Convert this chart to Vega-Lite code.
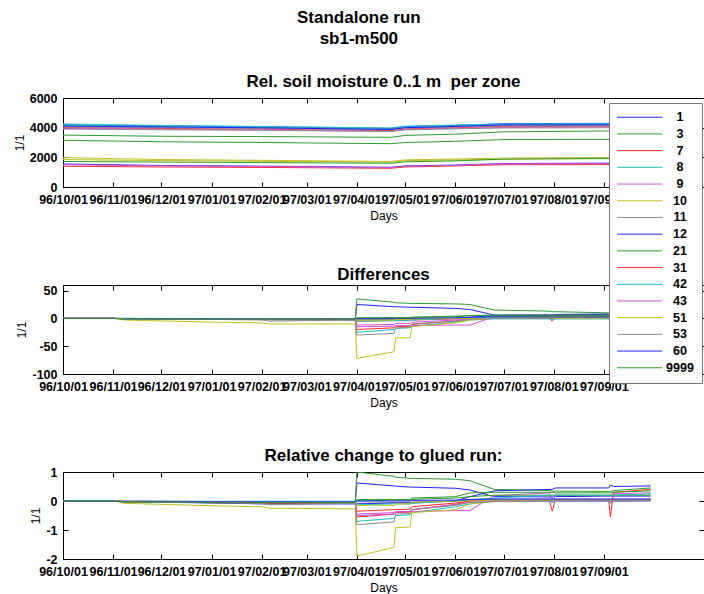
{
"$schema":"https://vega.github.io/schema/vega-lite/v6.json",
"background":"white",
"padding":{"left":12,"top":8,"right":0,"bottom":0},
"title":{"text":["Standalone run","sb1-m500"],"fontSize":17,"fontWeight":"bold","font":"Liberation Sans","lineHeight":21,"anchor":"middle","color":"#000","offset":25},
"bounds":"flush",
"spacing":98,
"config":{
"font":"Liberation Sans",
"view":{"stroke":"#000","strokeWidth":1},
"title":{"font":"Liberation Sans","fontSize":17,"fontWeight":"bold","color":"#000","offset":1},
"axis":{"labelFont":"Liberation Sans","labelFontSize":12.5,"labelFontWeight":"bold","labelColor":"#000","tickColor":"#000","tickSize":-5,"labelPadding":11,"domainColor":"#000","titleFont":"Liberation Sans","titleFontSize":12,"titleFontWeight":"normal","titleColor":"#000","grid":false,"labelOverlap":false,"labelBound":false,"labelFlush":false,"titlePadding":3},
"axisX":{"titlePadding":5},
"legend":{"orient":"none","legendX":546,"legendY":5,"fillColor":"#fff","strokeColor":"#777","padding":8,"symbolType":"M-9,0H9","symbolSize":25,"symbolOffset":16.5,"symbolStrokeWidth":1,"labelFont":"Liberation Sans","labelFontSize":12.5,"labelFontWeight":"bold","labelColor":"#000","labelAlign":"center","labelOffset":34,"rowPadding":3.7}
},
"datasets":{
"m":[
{"z":"1","t":"1996-10-01","v":4200},{"z":"1","t":"1996-12-01","v":4120},{"z":"1","t":"1997-02-01","v":4060},{"z":"1","t":"1997-04-22","v":3950},{"z":"1","t":"1997-05-01","v":4080},{"z":"1","t":"1997-06-01","v":4150},{"z":"1","t":"1997-07-01","v":4270},{"z":"1","t":"1997-09-30","v":4300},
{"z":"3","t":"1996-10-01","v":3500},{"z":"3","t":"1996-12-01","v":3420},{"z":"3","t":"1997-02-01","v":3400},{"z":"3","t":"1997-04-22","v":3350},{"z":"3","t":"1997-05-01","v":3480},{"z":"3","t":"1997-06-01","v":3560},{"z":"3","t":"1997-07-01","v":3720},{"z":"3","t":"1997-09-30","v":3800},
{"z":"7","t":"1996-10-01","v":4000},{"z":"7","t":"1996-12-01","v":3950},{"z":"7","t":"1997-02-01","v":3900},{"z":"7","t":"1997-04-22","v":3800},{"z":"7","t":"1997-05-01","v":3920},{"z":"7","t":"1997-06-01","v":4000},{"z":"7","t":"1997-07-01","v":4080},{"z":"7","t":"1997-09-30","v":4100},
{"z":"8","t":"1996-10-01","v":4250},{"z":"8","t":"1996-12-01","v":4150},{"z":"8","t":"1997-02-01","v":4080},{"z":"8","t":"1997-04-22","v":3980},{"z":"8","t":"1997-05-01","v":4100},{"z":"8","t":"1997-06-01","v":4180},{"z":"8","t":"1997-07-01","v":4250},{"z":"8","t":"1997-09-30","v":4280},
{"z":"9","t":"1996-10-01","v":3950},{"z":"9","t":"1996-12-01","v":3900},{"z":"9","t":"1997-02-01","v":3850},{"z":"9","t":"1997-04-22","v":3760},{"z":"9","t":"1997-05-01","v":3880},{"z":"9","t":"1997-06-01","v":3950},{"z":"9","t":"1997-07-01","v":4020},{"z":"9","t":"1997-09-30","v":4060},
{"z":"10","t":"1996-10-01","v":1980},{"z":"10","t":"1996-12-01","v":1850},{"z":"10","t":"1997-02-01","v":1800},{"z":"10","t":"1997-04-22","v":1720},{"z":"10","t":"1997-05-01","v":1830},{"z":"10","t":"1997-06-01","v":1880},{"z":"10","t":"1997-07-01","v":1950},{"z":"10","t":"1997-09-30","v":1990},
{"z":"11","t":"1996-10-01","v":4050},{"z":"11","t":"1996-12-01","v":4000},{"z":"11","t":"1997-02-01","v":3950},{"z":"11","t":"1997-04-22","v":3850},{"z":"11","t":"1997-05-01","v":3980},{"z":"11","t":"1997-06-01","v":4050},{"z":"11","t":"1997-07-01","v":4120},{"z":"11","t":"1997-09-30","v":4150},
{"z":"12","t":"1996-10-01","v":1550},{"z":"12","t":"1996-12-01","v":1450},{"z":"12","t":"1997-02-01","v":1400},{"z":"12","t":"1997-04-22","v":1330},{"z":"12","t":"1997-05-01","v":1420},{"z":"12","t":"1997-06-01","v":1480},{"z":"12","t":"1997-07-01","v":1580},{"z":"12","t":"1997-09-30","v":1620},
{"z":"21","t":"1996-10-01","v":3150},{"z":"21","t":"1996-12-01","v":3050},{"z":"21","t":"1997-02-01","v":3000},{"z":"21","t":"1997-04-22","v":2920},{"z":"21","t":"1997-05-01","v":3000},{"z":"21","t":"1997-06-01","v":3080},{"z":"21","t":"1997-07-01","v":3200},{"z":"21","t":"1997-09-30","v":3220},
{"z":"31","t":"1996-10-01","v":1400},{"z":"31","t":"1996-12-01","v":1350},{"z":"31","t":"1997-02-01","v":1320},{"z":"31","t":"1997-04-22","v":1260},{"z":"31","t":"1997-05-01","v":1350},{"z":"31","t":"1997-06-01","v":1420},{"z":"31","t":"1997-07-01","v":1500},{"z":"31","t":"1997-09-30","v":1520},
{"z":"42","t":"1996-10-01","v":4150},{"z":"42","t":"1996-12-01","v":4080},{"z":"42","t":"1997-02-01","v":4020},{"z":"42","t":"1997-04-22","v":3900},{"z":"42","t":"1997-05-01","v":4030},{"z":"42","t":"1997-06-01","v":4100},{"z":"42","t":"1997-07-01","v":4200},{"z":"42","t":"1997-09-30","v":4230},
{"z":"43","t":"1996-10-01","v":1500},{"z":"43","t":"1996-12-01","v":1420},{"z":"43","t":"1997-02-01","v":1380},{"z":"43","t":"1997-04-22","v":1300},{"z":"43","t":"1997-05-01","v":1400},{"z":"43","t":"1997-06-01","v":1460},{"z":"43","t":"1997-07-01","v":1560},{"z":"43","t":"1997-09-30","v":1580},
{"z":"51","t":"1996-10-01","v":1850},{"z":"51","t":"1996-12-01","v":1780},{"z":"51","t":"1997-02-01","v":1740},{"z":"51","t":"1997-04-22","v":1680},{"z":"51","t":"1997-05-01","v":1780},{"z":"51","t":"1997-06-01","v":1820},{"z":"51","t":"1997-07-01","v":1880},{"z":"51","t":"1997-09-30","v":1920},
{"z":"53","t":"1996-10-01","v":3900},{"z":"53","t":"1996-12-01","v":3860},{"z":"53","t":"1997-02-01","v":3820},{"z":"53","t":"1997-04-22","v":3740},{"z":"53","t":"1997-05-01","v":3850},{"z":"53","t":"1997-06-01","v":3920},{"z":"53","t":"1997-07-01","v":3980},{"z":"53","t":"1997-09-30","v":4000},
{"z":"60","t":"1996-10-01","v":4100},{"z":"60","t":"1996-12-01","v":4050},{"z":"60","t":"1997-02-01","v":3990},{"z":"60","t":"1997-04-22","v":3880},{"z":"60","t":"1997-05-01","v":4000},{"z":"60","t":"1997-06-01","v":4080},{"z":"60","t":"1997-07-01","v":4180},{"z":"60","t":"1997-09-30","v":4200},
{"z":"9999","t":"1996-10-01","v":1720},{"z":"9999","t":"1996-12-01","v":1680},{"z":"9999","t":"1997-02-01","v":1650},{"z":"9999","t":"1997-04-22","v":1600},{"z":"9999","t":"1997-05-01","v":1700},{"z":"9999","t":"1997-06-01","v":1760},{"z":"9999","t":"1997-07-01","v":1880},{"z":"9999","t":"1997-09-30","v":1960}
],
"d":[
{"z":"1","t":"1996-10-01","d":0,"r":0},{"z":"1","t":"1996-11-01","d":0,"r":0},{"z":"1","t":"1996-11-08","d":-1,"r":-0.02},{"z":"1","t":"1997-01-05","d":-2,"r":-0.05},{"z":"1","t":"1997-02-01","d":-2,"r":-0.05},{"z":"1","t":"1997-02-06","d":-2,"r":-0.05},{"z":"1","t":"1997-03-31","d":-3,"r":-0.07},{"z":"1","t":"1997-04-01","d":25,"r":0.62},{"z":"1","t":"1997-04-24","d":21,"r":0.52},{"z":"1","t":"1997-04-25","d":21,"r":0.51},{"z":"1","t":"1997-05-04","d":20,"r":0.48},{"z":"1","t":"1997-05-05","d":20,"r":0.48},{"z":"1","t":"1997-06-01","d":18,"r":0.44},{"z":"1","t":"1997-06-10","d":16,"r":0.38},{"z":"1","t":"1997-06-25","d":6,"r":0.15},{"z":"1","t":"1997-07-29","d":6,"r":0.14},{"z":"1","t":"1997-07-31","d":6,"r":0.14},{"z":"1","t":"1997-08-02","d":7,"r":0.15},{"z":"1","t":"1997-09-04","d":8,"r":0.17},{"z":"1","t":"1997-09-05","d":8,"r":0.17},{"z":"1","t":"1997-09-07","d":8,"r":0.17},{"z":"1","t":"1997-09-30","d":8,"r":0.17},
{"z":"3","t":"1996-10-01","d":0,"r":0},{"z":"3","t":"1996-11-01","d":0,"r":0},{"z":"3","t":"1996-11-08","d":-1,"r":-0.03},{"z":"3","t":"1997-01-05","d":-2,"r":-0.06},{"z":"3","t":"1997-02-01","d":-2,"r":-0.06},{"z":"3","t":"1997-02-06","d":-2,"r":-0.06},{"z":"3","t":"1997-03-31","d":-2,"r":-0.06},{"z":"3","t":"1997-04-01","d":35,"r":1},{"z":"3","t":"1997-04-24","d":29,"r":0.85},{"z":"3","t":"1997-04-25","d":28,"r":0.82},{"z":"3","t":"1997-05-04","d":27,"r":0.78},{"z":"3","t":"1997-05-05","d":27,"r":0.78},{"z":"3","t":"1997-06-01","d":26,"r":0.75},{"z":"3","t":"1997-06-10","d":25,"r":0.7},{"z":"3","t":"1997-06-25","d":15,"r":0.4},{"z":"3","t":"1997-07-29","d":13,"r":0.36},{"z":"3","t":"1997-07-31","d":12,"r":0.34},{"z":"3","t":"1997-08-02","d":12,"r":0.34},{"z":"3","t":"1997-09-04","d":10,"r":0.33},{"z":"3","t":"1997-09-05","d":10,"r":0.33},{"z":"3","t":"1997-09-07","d":10,"r":0.36},{"z":"3","t":"1997-09-30","d":10,"r":0.45},
{"z":"7","t":"1996-10-01","d":0,"r":0},{"z":"7","t":"1996-11-01","d":0,"r":0},{"z":"7","t":"1996-11-08","d":-0.5,"r":-0.02},{"z":"7","t":"1997-01-05","d":-1,"r":-0.03},{"z":"7","t":"1997-02-01","d":-1,"r":-0.03},{"z":"7","t":"1997-02-06","d":-1.5,"r":-0.04},{"z":"7","t":"1997-03-31","d":-1.5,"r":-0.04},{"z":"7","t":"1997-04-01","d":-20,"r":-0.55},{"z":"7","t":"1997-04-24","d":-17,"r":-0.45},{"z":"7","t":"1997-04-25","d":-15,"r":-0.4},{"z":"7","t":"1997-05-04","d":-14,"r":-0.38},{"z":"7","t":"1997-05-05","d":-11,"r":-0.3},{"z":"7","t":"1997-06-01","d":-5,"r":-0.12},{"z":"7","t":"1997-06-10","d":0,"r":0},{"z":"7","t":"1997-06-25","d":1,"r":0.03},{"z":"7","t":"1997-07-29","d":1,"r":0.05},{"z":"7","t":"1997-07-31","d":-5,"r":-0.35},{"z":"7","t":"1997-08-02","d":1,"r":0.05},{"z":"7","t":"1997-09-04","d":2,"r":0.05},{"z":"7","t":"1997-09-05","d":2,"r":0.05},{"z":"7","t":"1997-09-07","d":2,"r":0.05},{"z":"7","t":"1997-09-30","d":2,"r":0.05},
{"z":"8","t":"1996-10-01","d":0,"r":0},{"z":"8","t":"1996-11-01","d":0,"r":0},{"z":"8","t":"1996-11-08","d":-0.5,"r":-0.01},{"z":"8","t":"1997-01-05","d":-1,"r":-0.03},{"z":"8","t":"1997-02-01","d":-1,"r":-0.03},{"z":"8","t":"1997-02-06","d":-1,"r":-0.03},{"z":"8","t":"1997-03-31","d":-1,"r":-0.03},{"z":"8","t":"1997-04-01","d":-25,"r":-0.7},{"z":"8","t":"1997-04-24","d":-20,"r":-0.6},{"z":"8","t":"1997-04-25","d":-18,"r":-0.5},{"z":"8","t":"1997-05-04","d":-17,"r":-0.48},{"z":"8","t":"1997-05-05","d":-14,"r":-0.4},{"z":"8","t":"1997-06-01","d":-7,"r":-0.2},{"z":"8","t":"1997-06-10","d":-3,"r":-0.1},{"z":"8","t":"1997-06-25","d":-1,"r":-0.02},{"z":"8","t":"1997-07-29","d":-1,"r":-0.02},{"z":"8","t":"1997-07-31","d":-2,"r":-0.05},{"z":"8","t":"1997-08-02","d":-1,"r":-0.02},{"z":"8","t":"1997-09-04","d":-1,"r":-0.02},{"z":"8","t":"1997-09-05","d":-3,"r":-0.08},{"z":"8","t":"1997-09-07","d":-1,"r":-0.02},{"z":"8","t":"1997-09-30","d":-1,"r":0},
{"z":"9","t":"1996-10-01","d":0,"r":0},{"z":"9","t":"1996-11-01","d":0,"r":0},{"z":"9","t":"1996-11-08","d":-0.5,"r":-0.02},{"z":"9","t":"1997-01-05","d":-1,"r":-0.03},{"z":"9","t":"1997-02-01","d":-1.5,"r":-0.04},{"z":"9","t":"1997-02-06","d":-1.5,"r":-0.04},{"z":"9","t":"1997-03-31","d":-1.5,"r":-0.04},{"z":"9","t":"1997-04-01","d":-15,"r":-0.45},{"z":"9","t":"1997-04-24","d":-14,"r":-0.4},{"z":"9","t":"1997-04-25","d":-13,"r":-0.37},{"z":"9","t":"1997-05-04","d":-13,"r":-0.36},{"z":"9","t":"1997-05-05","d":-13,"r":-0.36},{"z":"9","t":"1997-06-01","d":-12,"r":-0.33},{"z":"9","t":"1997-06-10","d":-12,"r":-0.33},{"z":"9","t":"1997-06-25","d":3,"r":0.18},{"z":"9","t":"1997-07-29","d":5,"r":0.28},{"z":"9","t":"1997-07-31","d":4,"r":0.1},{"z":"9","t":"1997-08-02","d":5,"r":0.2},{"z":"9","t":"1997-09-04","d":5,"r":0.18},{"z":"9","t":"1997-09-05","d":5,"r":0.2},{"z":"9","t":"1997-09-07","d":5,"r":0.25},{"z":"9","t":"1997-09-30","d":5,"r":0.28},
{"z":"10","t":"1996-10-01","d":0,"r":0},{"z":"10","t":"1996-11-01","d":0,"r":0},{"z":"10","t":"1996-11-08","d":-3,"r":-0.08},{"z":"10","t":"1997-01-05","d":-7,"r":-0.17},{"z":"10","t":"1997-02-01","d":-8,"r":-0.2},{"z":"10","t":"1997-02-06","d":-10,"r":-0.25},{"z":"10","t":"1997-03-31","d":-10,"r":-0.27},{"z":"10","t":"1997-04-01","d":-72,"r":-1.9},{"z":"10","t":"1997-04-24","d":-60,"r":-1.6},{"z":"10","t":"1997-04-25","d":-35,"r":-0.92},{"z":"10","t":"1997-05-04","d":-35,"r":-0.9},{"z":"10","t":"1997-05-05","d":-15,"r":-0.4},{"z":"10","t":"1997-06-01","d":-8,"r":-0.3},{"z":"10","t":"1997-06-10","d":-3,"r":-0.1},{"z":"10","t":"1997-06-25","d":0,"r":0},{"z":"10","t":"1997-07-29","d":1,"r":0.02},{"z":"10","t":"1997-07-31","d":1,"r":0.02},{"z":"10","t":"1997-08-02","d":1,"r":0.03},{"z":"10","t":"1997-09-04","d":1,"r":0.03},{"z":"10","t":"1997-09-05","d":1,"r":0.03},{"z":"10","t":"1997-09-07","d":1,"r":0.03},{"z":"10","t":"1997-09-30","d":1,"r":0.03},
{"z":"11","t":"1996-10-01","d":0,"r":0},{"z":"11","t":"1996-11-01","d":0,"r":0},{"z":"11","t":"1996-11-08","d":-1,"r":-0.03},{"z":"11","t":"1997-01-05","d":-2,"r":-0.05},{"z":"11","t":"1997-02-01","d":-2,"r":-0.05},{"z":"11","t":"1997-02-06","d":-3,"r":-0.08},{"z":"11","t":"1997-03-31","d":-2,"r":-0.05},{"z":"11","t":"1997-04-01","d":-3,"r":-0.08},{"z":"11","t":"1997-04-24","d":-2,"r":-0.05},{"z":"11","t":"1997-04-25","d":-2,"r":-0.05},{"z":"11","t":"1997-05-04","d":-2,"r":-0.05},{"z":"11","t":"1997-05-05","d":-1,"r":-0.03},{"z":"11","t":"1997-06-01","d":0,"r":0},{"z":"11","t":"1997-06-10","d":1,"r":0.03},{"z":"11","t":"1997-06-25","d":2,"r":0.05},{"z":"11","t":"1997-07-29","d":2,"r":0.05},{"z":"11","t":"1997-07-31","d":2,"r":0.05},{"z":"11","t":"1997-08-02","d":2,"r":0.05},{"z":"11","t":"1997-09-04","d":2,"r":0.05},{"z":"11","t":"1997-09-05","d":1,"r":-0.05},{"z":"11","t":"1997-09-07","d":2,"r":0.05},{"z":"11","t":"1997-09-30","d":2,"r":0.05},
{"z":"12","t":"1996-10-01","d":0,"r":0},{"z":"12","t":"1996-11-01","d":0,"r":0},{"z":"12","t":"1996-11-08","d":-0.5,"r":-0.03},{"z":"12","t":"1997-01-05","d":-1,"r":-0.07},{"z":"12","t":"1997-02-01","d":-1.5,"r":-0.1},{"z":"12","t":"1997-02-06","d":-1.5,"r":-0.1},{"z":"12","t":"1997-03-31","d":-1.5,"r":-0.1},{"z":"12","t":"1997-04-01","d":-1.5,"r":-0.1},{"z":"12","t":"1997-04-24","d":-1,"r":-0.07},{"z":"12","t":"1997-04-25","d":-1,"r":-0.07},{"z":"12","t":"1997-05-04","d":-1,"r":-0.07},{"z":"12","t":"1997-05-05","d":-1,"r":-0.07},{"z":"12","t":"1997-06-01","d":0,"r":0},{"z":"12","t":"1997-06-10","d":2,"r":0.15},{"z":"12","t":"1997-06-25","d":5,"r":0.35},{"z":"12","t":"1997-07-29","d":6,"r":0.4},{"z":"12","t":"1997-07-31","d":6,"r":0.4},{"z":"12","t":"1997-08-02","d":6.5,"r":0.45},{"z":"12","t":"1997-09-04","d":7,"r":0.45},{"z":"12","t":"1997-09-05","d":8.5,"r":0.55},{"z":"12","t":"1997-09-07","d":7.5,"r":0.5},{"z":"12","t":"1997-09-30","d":8,"r":0.52},
{"z":"21","t":"1996-10-01","d":0,"r":0},{"z":"21","t":"1996-11-01","d":0,"r":0},{"z":"21","t":"1996-11-08","d":-1,"r":-0.03},{"z":"21","t":"1997-01-05","d":-2,"r":-0.06},{"z":"21","t":"1997-02-01","d":-2,"r":-0.06},{"z":"21","t":"1997-02-06","d":-2,"r":-0.06},{"z":"21","t":"1997-03-31","d":-2,"r":-0.06},{"z":"21","t":"1997-04-01","d":0,"r":0},{"z":"21","t":"1997-04-24","d":1,"r":0.03},{"z":"21","t":"1997-04-25","d":1,"r":0.03},{"z":"21","t":"1997-05-04","d":1,"r":0.03},{"z":"21","t":"1997-05-05","d":2,"r":0.06},{"z":"21","t":"1997-06-01","d":3,"r":0.1},{"z":"21","t":"1997-06-10","d":5,"r":0.15},{"z":"21","t":"1997-06-25","d":6,"r":0.2},{"z":"21","t":"1997-07-29","d":6,"r":0.2},{"z":"21","t":"1997-07-31","d":6,"r":0.2},{"z":"21","t":"1997-08-02","d":6,"r":0.2},{"z":"21","t":"1997-09-04","d":6,"r":0.2},{"z":"21","t":"1997-09-05","d":6,"r":0.2},{"z":"21","t":"1997-09-07","d":6,"r":0.2},{"z":"21","t":"1997-09-30","d":6,"r":0.2},
{"z":"31","t":"1996-10-01","d":0,"r":0},{"z":"31","t":"1996-11-01","d":0,"r":0},{"z":"31","t":"1996-11-08","d":-0.3,"r":-0.02},{"z":"31","t":"1997-01-05","d":-0.8,"r":-0.06},{"z":"31","t":"1997-02-01","d":-1,"r":-0.07},{"z":"31","t":"1997-02-06","d":-1,"r":-0.07},{"z":"31","t":"1997-03-31","d":-1,"r":-0.07},{"z":"31","t":"1997-04-01","d":-5,"r":-0.35},{"z":"31","t":"1997-04-24","d":-4,"r":-0.3},{"z":"31","t":"1997-04-25","d":-4,"r":-0.3},{"z":"31","t":"1997-05-04","d":-4,"r":-0.28},{"z":"31","t":"1997-05-05","d":-3,"r":-0.2},{"z":"31","t":"1997-06-01","d":-1,"r":-0.07},{"z":"31","t":"1997-06-10","d":0,"r":0},{"z":"31","t":"1997-06-25","d":0,"r":0},{"z":"31","t":"1997-07-29","d":0.5,"r":0.03},{"z":"31","t":"1997-07-31","d":0.5,"r":0.03},{"z":"31","t":"1997-08-02","d":0.5,"r":0.03},{"z":"31","t":"1997-09-04","d":0.5,"r":0.03},{"z":"31","t":"1997-09-05","d":-7,"r":-0.55},{"z":"31","t":"1997-09-07","d":4,"r":0.3},{"z":"31","t":"1997-09-30","d":5,"r":0.4},
{"z":"42","t":"1996-10-01","d":0,"r":0},{"z":"42","t":"1996-11-01","d":0,"r":0},{"z":"42","t":"1996-11-08","d":0,"r":0},{"z":"42","t":"1997-01-05","d":-0.5,"r":-0.01},{"z":"42","t":"1997-02-01","d":-0.5,"r":-0.01},{"z":"42","t":"1997-02-06","d":-0.5,"r":-0.01},{"z":"42","t":"1997-03-31","d":-0.5,"r":-0.01},{"z":"42","t":"1997-04-01","d":-5,"r":-0.13},{"z":"42","t":"1997-04-24","d":-4,"r":-0.1},{"z":"42","t":"1997-04-25","d":-4,"r":-0.1},{"z":"42","t":"1997-05-04","d":-4,"r":-0.1},{"z":"42","t":"1997-05-05","d":-3,"r":-0.08},{"z":"42","t":"1997-06-01","d":0,"r":0},{"z":"42","t":"1997-06-10","d":1,"r":0.05},{"z":"42","t":"1997-06-25","d":2,"r":0.1},{"z":"42","t":"1997-07-29","d":3,"r":0.2},{"z":"42","t":"1997-07-31","d":-2,"r":-0.05},{"z":"42","t":"1997-08-02","d":3,"r":0.2},{"z":"42","t":"1997-09-04","d":3,"r":0.2},{"z":"42","t":"1997-09-05","d":3,"r":0.2},{"z":"42","t":"1997-09-07","d":3,"r":0.2},{"z":"42","t":"1997-09-30","d":3,"r":0.25},
{"z":"43","t":"1996-10-01","d":0,"r":0},{"z":"43","t":"1996-11-01","d":0,"r":0},{"z":"43","t":"1996-11-08","d":0,"r":0},{"z":"43","t":"1997-01-05","d":-0.5,"r":-0.02},{"z":"43","t":"1997-02-01","d":-1,"r":-0.05},{"z":"43","t":"1997-02-06","d":-1,"r":-0.05},{"z":"43","t":"1997-03-31","d":-1,"r":-0.05},{"z":"43","t":"1997-04-01","d":-12,"r":-0.5},{"z":"43","t":"1997-04-24","d":-11,"r":-0.45},{"z":"43","t":"1997-04-25","d":-9,"r":-0.38},{"z":"43","t":"1997-05-04","d":-9,"r":-0.37},{"z":"43","t":"1997-05-05","d":-7,"r":-0.3},{"z":"43","t":"1997-06-01","d":-3,"r":-0.12},{"z":"43","t":"1997-06-10","d":-1,"r":-0.04},{"z":"43","t":"1997-06-25","d":0,"r":0},{"z":"43","t":"1997-07-29","d":0,"r":0},{"z":"43","t":"1997-07-31","d":0,"r":0},{"z":"43","t":"1997-08-02","d":0,"r":0},{"z":"43","t":"1997-09-04","d":0,"r":0},{"z":"43","t":"1997-09-05","d":0,"r":0},{"z":"43","t":"1997-09-07","d":0,"r":0},{"z":"43","t":"1997-09-30","d":0,"r":0},
{"z":"51","t":"1996-10-01","d":0,"r":0},{"z":"51","t":"1996-11-01","d":0,"r":0},{"z":"51","t":"1996-11-08","d":-0.5,"r":-0.03},{"z":"51","t":"1997-01-05","d":-1,"r":-0.05},{"z":"51","t":"1997-02-01","d":-1,"r":-0.05},{"z":"51","t":"1997-02-06","d":-1,"r":-0.05},{"z":"51","t":"1997-03-31","d":-1,"r":-0.05},{"z":"51","t":"1997-04-01","d":-3,"r":-0.15},{"z":"51","t":"1997-04-24","d":-3,"r":-0.15},{"z":"51","t":"1997-04-25","d":-2,"r":-0.1},{"z":"51","t":"1997-05-04","d":-2,"r":-0.1},{"z":"51","t":"1997-05-05","d":-1,"r":-0.05},{"z":"51","t":"1997-06-01","d":0,"r":0},{"z":"51","t":"1997-06-10","d":0,"r":0},{"z":"51","t":"1997-06-25","d":0,"r":0.02},{"z":"51","t":"1997-07-29","d":0,"r":0.02},{"z":"51","t":"1997-07-31","d":0,"r":0.02},{"z":"51","t":"1997-08-02","d":0,"r":0.02},{"z":"51","t":"1997-09-04","d":0,"r":0.02},{"z":"51","t":"1997-09-05","d":0,"r":0.02},{"z":"51","t":"1997-09-07","d":0,"r":0.02},{"z":"51","t":"1997-09-30","d":0,"r":0.02},
{"z":"53","t":"1996-10-01","d":0,"r":0},{"z":"53","t":"1996-11-01","d":0,"r":0},{"z":"53","t":"1996-11-08","d":-1,"r":-0.03},{"z":"53","t":"1997-01-05","d":-2,"r":-0.05},{"z":"53","t":"1997-02-01","d":-3,"r":-0.08},{"z":"53","t":"1997-02-06","d":-5,"r":-0.13},{"z":"53","t":"1997-03-31","d":-3,"r":-0.08},{"z":"53","t":"1997-04-01","d":-30,"r":-0.82},{"z":"53","t":"1997-04-24","d":-27,"r":-0.72},{"z":"53","t":"1997-04-25","d":-17,"r":-0.45},{"z":"53","t":"1997-05-04","d":-16,"r":-0.43},{"z":"53","t":"1997-05-05","d":-10,"r":-0.3},{"z":"53","t":"1997-06-01","d":-5,"r":-0.15},{"z":"53","t":"1997-06-10","d":-2,"r":-0.05},{"z":"53","t":"1997-06-25","d":0,"r":0},{"z":"53","t":"1997-07-29","d":0,"r":0},{"z":"53","t":"1997-07-31","d":0,"r":0},{"z":"53","t":"1997-08-02","d":1,"r":0.02},{"z":"53","t":"1997-09-04","d":1,"r":0.02},{"z":"53","t":"1997-09-05","d":1,"r":0.02},{"z":"53","t":"1997-09-07","d":1,"r":0.02},{"z":"53","t":"1997-09-30","d":1,"r":0.02},
{"z":"60","t":"1996-10-01","d":0,"r":0},{"z":"60","t":"1996-11-01","d":0,"r":0},{"z":"60","t":"1996-11-08","d":-0.5,"r":-0.02},{"z":"60","t":"1997-01-05","d":-1,"r":-0.03},{"z":"60","t":"1997-02-01","d":-1,"r":-0.03},{"z":"60","t":"1997-02-06","d":-1,"r":-0.03},{"z":"60","t":"1997-03-31","d":-1,"r":-0.03},{"z":"60","t":"1997-04-01","d":0,"r":0},{"z":"60","t":"1997-04-24","d":0,"r":0},{"z":"60","t":"1997-04-25","d":0,"r":0},{"z":"60","t":"1997-05-04","d":0,"r":0},{"z":"60","t":"1997-05-05","d":0.5,"r":0.02},{"z":"60","t":"1997-06-01","d":1,"r":0.03},{"z":"60","t":"1997-06-10","d":2,"r":0.05},{"z":"60","t":"1997-06-25","d":3,"r":0.07},{"z":"60","t":"1997-07-29","d":3,"r":0.07},{"z":"60","t":"1997-07-31","d":3,"r":0.07},{"z":"60","t":"1997-08-02","d":3,"r":0.07},{"z":"60","t":"1997-09-04","d":3,"r":0.07},{"z":"60","t":"1997-09-05","d":3,"r":0.07},{"z":"60","t":"1997-09-07","d":3,"r":0.07},{"z":"60","t":"1997-09-30","d":3,"r":0.07},
{"z":"9999","t":"1996-10-01","d":0,"r":0},{"z":"9999","t":"1996-11-01","d":0,"r":0},{"z":"9999","t":"1996-11-08","d":-0.5,"r":-0.02},{"z":"9999","t":"1997-01-05","d":-1,"r":-0.05},{"z":"9999","t":"1997-02-01","d":-1,"r":-0.05},{"z":"9999","t":"1997-02-06","d":-1,"r":-0.05},{"z":"9999","t":"1997-03-31","d":-1,"r":-0.05},{"z":"9999","t":"1997-04-01","d":1,"r":0.05},{"z":"9999","t":"1997-04-24","d":1,"r":0.05},{"z":"9999","t":"1997-04-25","d":1,"r":0.05},{"z":"9999","t":"1997-05-04","d":1,"r":0.05},{"z":"9999","t":"1997-05-05","d":2,"r":0.1},{"z":"9999","t":"1997-06-01","d":4,"r":0.15},{"z":"9999","t":"1997-06-10","d":5,"r":0.28},{"z":"9999","t":"1997-06-25","d":5,"r":0.3},{"z":"9999","t":"1997-07-29","d":4,"r":0.3},{"z":"9999","t":"1997-07-31","d":4,"r":0.3},{"z":"9999","t":"1997-08-02","d":4,"r":0.28},{"z":"9999","t":"1997-09-04","d":4,"r":0.28},{"z":"9999","t":"1997-09-05","d":4,"r":0.28},{"z":"9999","t":"1997-09-07","d":4,"r":0.3},{"z":"9999","t":"1997-09-30","d":4,"r":0.35}
]
},
"vconcat":[
{"width":641,"height":89,"title":"Rel. soil moisture 0..1 m \u00a0per zone","data":{"name":"m"},
"layer":[
{"mark":{"type":"line","strokeWidth":1,"clip":true},
"encoding":{
"x":{"field":"t","type":"temporal","scale":{"type":"utc","domain":[{"year":1996,"month":10,"date":1,"utc":true},{"year":1997,"month":11,"date":2,"utc":true}]},"axis":{"orient":"bottom","format":"%y/%m/%d","title":"Days","values":[{"year":1996,"month":10,"date":1,"utc":true},{"year":1996,"month":11,"date":1,"utc":true},{"year":1996,"month":12,"date":1,"utc":true},{"year":1997,"month":1,"date":1,"utc":true},{"year":1997,"month":2,"date":1,"utc":true},{"year":1997,"month":3,"date":1,"utc":true},{"year":1997,"month":4,"date":1,"utc":true},{"year":1997,"month":5,"date":1,"utc":true},{"year":1997,"month":6,"date":1,"utc":true},{"year":1997,"month":7,"date":1,"utc":true},{"year":1997,"month":8,"date":1,"utc":true},{"year":1997,"month":9,"date":1,"utc":true}]}},
"y":{"field":"v","type":"quantitative","scale":{"domain":[0,6000]},"axis":{"orient":"left","values":[0,2000,4000,6000],"labelExpr":"'' + datum.value","title":"1/1"}},
"color":{"field":"z","type":"nominal","scale":{"domain":["1","3","7","8","9","10","11","12","21","31","42","43","51","53","60","9999"],"range":["#2020ff","#2e9a2e","#ff2a2a","#20bfbf","#d650d6","#c0c020","#8c8c8c","#2020ff","#2e9a2e","#ff2a2a","#20bfbf","#d650d6","#c0c020","#8c8c8c","#2020ff","#2e9a2e"]},"legend":{"title":null}}
}},
{"mark":{"type":"line","strokeOpacity":0},
"encoding":{
"x":{"field":"t","type":"temporal","axis":{"orient":"top","labels":false,"title":null,"domain":false,"values":[{"year":1996,"month":10,"date":1,"utc":true},{"year":1996,"month":11,"date":1,"utc":true},{"year":1996,"month":12,"date":1,"utc":true},{"year":1997,"month":1,"date":1,"utc":true},{"year":1997,"month":2,"date":1,"utc":true},{"year":1997,"month":3,"date":1,"utc":true},{"year":1997,"month":4,"date":1,"utc":true},{"year":1997,"month":5,"date":1,"utc":true},{"year":1997,"month":6,"date":1,"utc":true},{"year":1997,"month":7,"date":1,"utc":true},{"year":1997,"month":8,"date":1,"utc":true},{"year":1997,"month":9,"date":1,"utc":true}]}},
"y":{"field":"v","type":"quantitative","axis":{"orient":"right","labels":false,"title":null,"domain":false,"values":[0,2000,4000,6000]}},
"detail":{"field":"z"}
}}
]},
{"width":641,"height":89,"title":"Differences","data":{"name":"d"},
"layer":[
{"mark":{"type":"line","strokeWidth":1,"clip":true},
"encoding":{
"x":{"field":"t","type":"temporal","scale":{"type":"utc","domain":[{"year":1996,"month":10,"date":1,"utc":true},{"year":1997,"month":11,"date":2,"utc":true}]},"axis":{"orient":"bottom","format":"%y/%m/%d","title":"Days","values":[{"year":1996,"month":10,"date":1,"utc":true},{"year":1996,"month":11,"date":1,"utc":true},{"year":1996,"month":12,"date":1,"utc":true},{"year":1997,"month":1,"date":1,"utc":true},{"year":1997,"month":2,"date":1,"utc":true},{"year":1997,"month":3,"date":1,"utc":true},{"year":1997,"month":4,"date":1,"utc":true},{"year":1997,"month":5,"date":1,"utc":true},{"year":1997,"month":6,"date":1,"utc":true},{"year":1997,"month":7,"date":1,"utc":true},{"year":1997,"month":8,"date":1,"utc":true},{"year":1997,"month":9,"date":1,"utc":true}]}},
"y":{"field":"d","type":"quantitative","scale":{"domain":[-100,50]},"axis":{"orient":"left","values":[-100,-50,0,50],"labelExpr":"'' + datum.value","title":"1/1"}},
"color":{"field":"z","type":"nominal","legend":{"title":null}}
}},
{"mark":{"type":"line","strokeOpacity":0},
"encoding":{
"x":{"field":"t","type":"temporal","axis":{"orient":"top","labels":false,"title":null,"domain":false,"values":[{"year":1996,"month":10,"date":1,"utc":true},{"year":1996,"month":11,"date":1,"utc":true},{"year":1996,"month":12,"date":1,"utc":true},{"year":1997,"month":1,"date":1,"utc":true},{"year":1997,"month":2,"date":1,"utc":true},{"year":1997,"month":3,"date":1,"utc":true},{"year":1997,"month":4,"date":1,"utc":true},{"year":1997,"month":5,"date":1,"utc":true},{"year":1997,"month":6,"date":1,"utc":true},{"year":1997,"month":7,"date":1,"utc":true},{"year":1997,"month":8,"date":1,"utc":true},{"year":1997,"month":9,"date":1,"utc":true}]}},
"y":{"field":"d","type":"quantitative","axis":{"orient":"right","labels":false,"title":null,"domain":false,"values":[-100,-50,0,50]}},
"detail":{"field":"z"}
}}
]},
{"width":641,"height":87,"title":"Relative change to glued run:","data":{"name":"d"},
"layer":[
{"mark":{"type":"line","strokeWidth":1,"clip":true},
"encoding":{
"x":{"field":"t","type":"temporal","scale":{"type":"utc","domain":[{"year":1996,"month":10,"date":1,"utc":true},{"year":1997,"month":11,"date":2,"utc":true}]},"axis":{"orient":"bottom","format":"%y/%m/%d","title":"Days","values":[{"year":1996,"month":10,"date":1,"utc":true},{"year":1996,"month":11,"date":1,"utc":true},{"year":1996,"month":12,"date":1,"utc":true},{"year":1997,"month":1,"date":1,"utc":true},{"year":1997,"month":2,"date":1,"utc":true},{"year":1997,"month":3,"date":1,"utc":true},{"year":1997,"month":4,"date":1,"utc":true},{"year":1997,"month":5,"date":1,"utc":true},{"year":1997,"month":6,"date":1,"utc":true},{"year":1997,"month":7,"date":1,"utc":true},{"year":1997,"month":8,"date":1,"utc":true},{"year":1997,"month":9,"date":1,"utc":true}]}},
"y":{"field":"r","type":"quantitative","scale":{"domain":[-2,1]},"axis":{"orient":"left","values":[-2,-1,0,1],"labelExpr":"'' + datum.value","title":"1/1"}},
"color":{"field":"z","type":"nominal","legend":{"title":null}}
}},
{"mark":{"type":"line","strokeOpacity":0},
"encoding":{
"x":{"field":"t","type":"temporal","axis":{"orient":"top","labels":false,"title":null,"domain":false,"values":[{"year":1996,"month":10,"date":1,"utc":true},{"year":1996,"month":11,"date":1,"utc":true},{"year":1996,"month":12,"date":1,"utc":true},{"year":1997,"month":1,"date":1,"utc":true},{"year":1997,"month":2,"date":1,"utc":true},{"year":1997,"month":3,"date":1,"utc":true},{"year":1997,"month":4,"date":1,"utc":true},{"year":1997,"month":5,"date":1,"utc":true},{"year":1997,"month":6,"date":1,"utc":true},{"year":1997,"month":7,"date":1,"utc":true},{"year":1997,"month":8,"date":1,"utc":true},{"year":1997,"month":9,"date":1,"utc":true}]}},
"y":{"field":"r","type":"quantitative","axis":{"orient":"right","labels":false,"title":null,"domain":false,"values":[-2,-1,0,1]}},
"detail":{"field":"z"}
}}
]}
]
}
